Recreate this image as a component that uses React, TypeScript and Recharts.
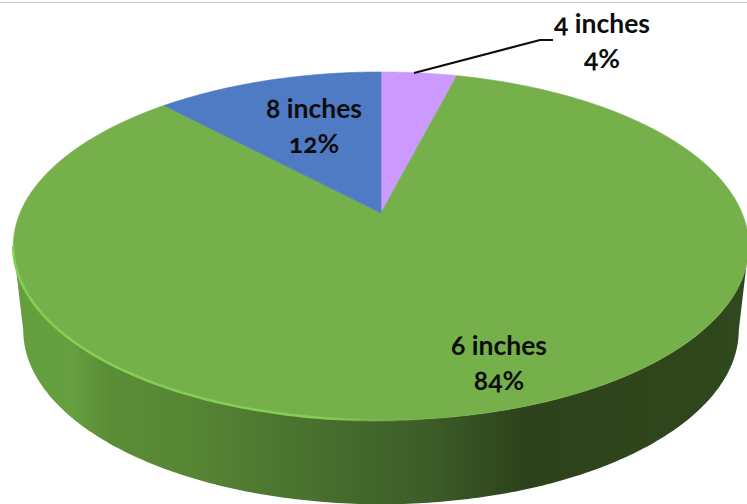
import React from "react";
import { PieChart, Pie, Cell } from "recharts";

// Share of each size, clockwise from twelve o'clock.
const sizeNames = ["4 inches", "6 inches", "8 inches"];
const sizeShares = [4, 84, 12];
const sizeColors = ["#CC99FF", "#75B04B", "#4F7AC4"];

const pieData = sizeNames.map((name, i) => ({ name, value: sizeShares[i] }));

// Tilted-disc projection: k is the foreshortening, squash the vertical ratio.
const TILT = { k: 0.19, squash: 0.465, depth: 84, lowerScale: 0.973 };
const FRONT = { from: -169, to: -11 };
const W = 747;
const H = 504;

const rad = (d: number) => (d * Math.PI) / 180;

function project(a: number, cx: number, cy: number, r: number, lower = false) {
  const u = Math.cos(rad(a));
  const v = Math.sin(rad(a));
  const d = 1 + TILT.k * v;
  const sx = lower ? r * TILT.lowerScale : r;
  return {
    x: cx + (sx * u) / d,
    y: cy - (r * TILT.squash * v) / d + (lower ? TILT.depth : 0),
  };
}

function arcPoints(a0: number, a1: number, cx: number, cy: number, r: number, lower = false) {
  const n = Math.max(2, Math.ceil(Math.abs(a1 - a0) * 1.5));
  const pts: { x: number; y: number }[] = [];
  for (let i = 0; i <= n; i++) pts.push(project(a0 + ((a1 - a0) * i) / n, cx, cy, r, lower));
  return pts;
}

const toPath = (pts: { x: number; y: number }[]) =>
  pts.map((p, i) => `${i ? "L" : "M"}${p.x.toFixed(2)} ${p.y.toFixed(2)}`).join("");

// Top face of a slice, bent onto the tilted disc.
function TopFace(props: any) {
  const { cx, cy, outerRadius: r, startAngle, endAngle, fill } = props;
  const path = toPath([{ x: cx, y: cy }, ...arcPoints(startAngle, endAngle, cx, cy, r)]) + "Z";
  const lo = Math.max(Math.min(startAngle, endAngle), FRONT.from);
  const hi = Math.min(Math.max(startAngle, endAngle), FRONT.to);
  return (
    <g>
      <path d={path} fill={fill} stroke={fill} strokeWidth={0.6} />
      {lo < hi && (
        <path
          d={toPath(arcPoints(lo, hi, cx, cy, r))}
          fill="none"
          stroke="url(#rimLight)"
          strokeWidth={2.6}
        />
      )}
    </g>
  );
}

// Visible outer wall of a slice, between the upper and lower rims.
function Wall(props: any) {
  const { cx, cy, outerRadius: r, startAngle, endAngle } = props;
  const lo = Math.max(Math.min(startAngle, endAngle), FRONT.from);
  const hi = Math.min(Math.max(startAngle, endAngle), FRONT.to);
  if (lo >= hi) return <g />;
  const upper = arcPoints(lo, hi, cx, cy, r);
  const lower = arcPoints(hi, lo, cx, cy, r, true);
  return <path d={toPath([...upper, ...lower]) + "Z"} fill="url(#wallShade)" />;
}

// Where each pair of label lines is centred.
const labelCenters: Record<string, { x: number; y: number }> = {
  "4 inches": { x: 602, y: 26 },
  "6 inches": { x: 499, y: 348 },
  "8 inches": { x: 314, y: 111 },
};
const LINE_GAP = 35;

function SliceLabel(props: any) {
  const { name, value } = props;
  const at = labelCenters[name];
  return (
    <g>
      {name === "4 inches" && (
        <polyline
          points="414,73 540,40 553,40"
          fill="none"
          stroke="#0d0d0d"
          strokeWidth={2.2}
        />
      )}
      <text
        textAnchor="middle"
        fill="#0d0d0d"
        fontFamily="Lato, 'Open Sans', sans-serif"
        fontWeight={700}
        fontSize={26.5}
        style={{ fontFeatureSettings: '"onum"' }}
      >
        <tspan x={at.x} y={at.y} dominantBaseline="middle">
          {name}
        </tspan>
        <tspan x={at.x} y={at.y + LINE_GAP} dominantBaseline="middle">
          {`${value}%`}
        </tspan>
      </text>
    </g>
  );
}

export default function App() {
  return (
    <div style={{ position: "absolute", left: 0, top: 0, width: W, height: H, background: "#fff" }}>
      <div
        style={{
          position: "absolute",
          left: 0,
          top: 2,
          width: W,
          height: 1,
          background: "#c9c9c9",
        }}
      />
      <PieChart width={W} height={H} margin={{ top: 0, right: 0, bottom: 0, left: 0 }}>
        <defs>
          <linearGradient id="wallShade" gradientUnits="userSpaceOnUse" x1={13} y1={0} x2={747} y2={0}>
            <stop offset="0" stopColor="#649E3D" />
            <stop offset="0.08" stopColor="#659F3F" />
            <stop offset="0.13" stopColor="#5B8D37" />
            <stop offset="0.25" stopColor="#568534" />
            <stop offset="0.37" stopColor="#4B7530" />
            <stop offset="0.57" stopColor="#3C5C28" />
            <stop offset="0.7" stopColor="#2D421B" />
            <stop offset="1" stopColor="#30481D" />
          </linearGradient>
          <linearGradient id="rimLight" gradientUnits="userSpaceOnUse" x1={13} y1={0} x2={430} y2={0}>
            <stop offset="0" stopColor="#85CF55" />
            <stop offset="0.75" stopColor="#85CC55" />
            <stop offset="1" stopColor="#75B04B" stopOpacity={0} />
          </linearGradient>
        </defs>
        <Pie
          data={pieData}
          dataKey="value"
          nameKey="name"
          cx={381}
          cy={213}
          outerRadius={361}
          startAngle={90}
          endAngle={-270}
          stroke="none"
          isAnimationActive={false}
          shape={Wall}
          legendType="none"
        />
        <Pie
          data={pieData}
          dataKey="value"
          nameKey="name"
          cx={381}
          cy={213}
          outerRadius={361}
          startAngle={90}
          endAngle={-270}
          stroke="none"
          isAnimationActive={false}
          shape={TopFace}
          label={SliceLabel}
          labelLine={false}
        >
          {sizeNames.map((n, i) => (
            <Cell key={n} fill={sizeColors[i]} />
          ))}
        </Pie>
      </PieChart>
    </div>
  );
}
